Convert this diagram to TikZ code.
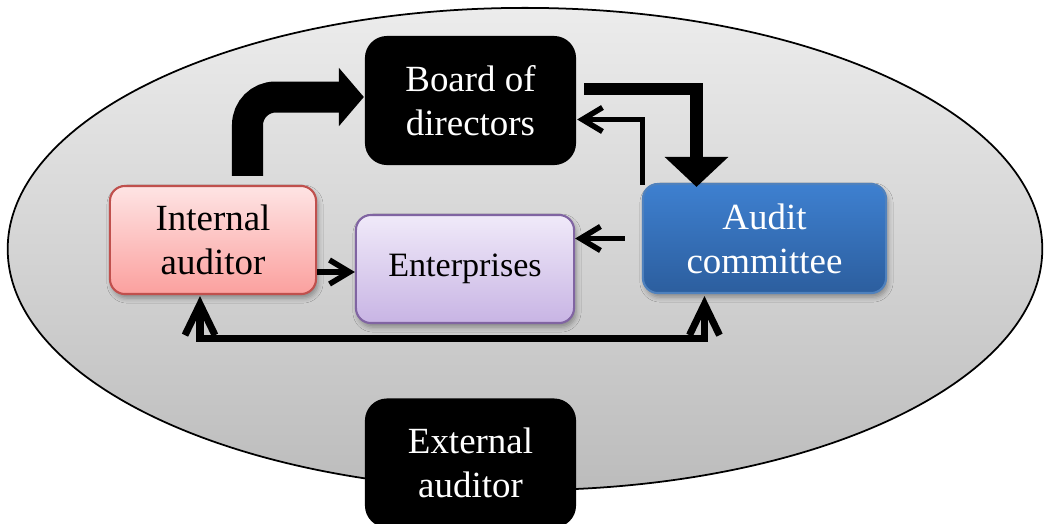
\documentclass[tikz,border=0pt]{standalone}
\usepackage{fontspec}
\setmainfont{Liberation Serif}
\usepackage{xcolor}
\usetikzlibrary{arrows.meta}
\usetikzlibrary{shadows.blur}

\definecolor{ovaltop}{RGB}{236,236,236}
\definecolor{ovalbot}{RGB}{188,188,188}
\definecolor{redtop}{RGB}{254,228,228}
\definecolor{redbot}{RGB}{251,160,158}
\definecolor{redline}{RGB}{192,80,77}
\definecolor{liltop}{RGB}{240,234,249}
\definecolor{lilbot}{RGB}{200,180,228}
\definecolor{lilline}{RGB}{128,100,162}
\definecolor{bluetop}{RGB}{62,128,208}
\definecolor{bluebot}{RGB}{44,94,158}
\definecolor{blueline}{RGB}{79,129,189}

\begin{document}
\begin{tikzpicture}[x=0.01cm,y=-0.01cm,
    box/.style={rounded corners=0.15cm, inner sep=0pt, align=center,
        minimum width=2.1cm, minimum height=1.08cm, line width=0.6pt,
        font=\fontsize{10.5}{12.5}\selectfont},
    colbox/.style={box,
        blur shadow={shadow xshift=0.02cm, shadow yshift=-0.04cm,
            shadow blur radius=0.05cm, shadow opacity=35}},
    blackbox/.style={box, rounded corners=0.22cm, fill=black, text=white,
        minimum width=2.11cm, minimum height=1.29cm},
    bigarrow/.style={line width=0.31cm, rounded corners=0.28cm,
        -{Triangle[length=0.25cm,width=0.57cm]}},
    midarrow/.style={line width=0.12cm,
        -{Triangle[length=0.3cm,width=0.62cm]}},
    thinarrow/.style={line width=0.055cm, line cap=butt,
        -{Straight Barb[length=0.2cm,width=0.24cm]}},
    botarrow/.style={line width=0.07cm,
        {Straight Barb[length=0.31cm,width=0.3cm]}-{Straight Barb[length=0.31cm,width=0.3cm]}}]

    \useasboundingbox (0,0) rectangle (1047,523);

    %%% OVAL %%%
    \draw[top color=ovaltop, bottom color=ovalbot, line width=0.5pt]
        (525,249) ellipse [x radius=5.17cm, y radius=2.41cm];

    %%% BOXES %%%
    \node[blackbox] (board) at (470.5,100.5) {Board of\\directors};
    \node[colbox, draw=redline, top color=redtop, bottom color=redbot,
        minimum width=2.06cm] (intaud) at (213,240) {Internal\\auditor};
    \node[colbox, draw=lilline, top color=liltop, bottom color=lilbot,
        minimum width=2.18cm, font=\fontsize{9.7}{12}\selectfont] (ent) at (465,269) {Enterprises};
    \node[colbox, draw=blueline, top color=bluetop, bottom color=bluebot, text=white,
        minimum width=2.43cm, minimum height=1.09cm] (audit) at (764.5,238.5) {Audit\\committee};
    \node[blackbox] (extaud) at (470.5,463) {External\\auditor};

    %%% ARROWS %%%
    \draw[bigarrow] ([shift={(34.5,-9)}]intaud.north) |- ([shift={(0,-3.5)}]board.west);
    \draw[midarrow] ([shift={(7,-12)}]board.east) -| ([shift={(-68,4)}]audit.north);
    \draw[thinarrow] ([shift={(0.5,2)}]audit.north west) |- ([shift={(0,19)}]board.east);
    \draw[thinarrow] ([xshift=-0.17cm]audit.west) -- (audit.west -| ent.east);
    \draw[thinarrow] ([shift={(0,3)}]intaud.east |- ent.west) -- ([shift={(0,3)}]ent.west);
    \draw[botarrow] ([shift={(-13,1)}]intaud.south) -- ++(0,42) -| ([shift={(-60,2)}]audit.south);
\end{tikzpicture}
\end{document}
